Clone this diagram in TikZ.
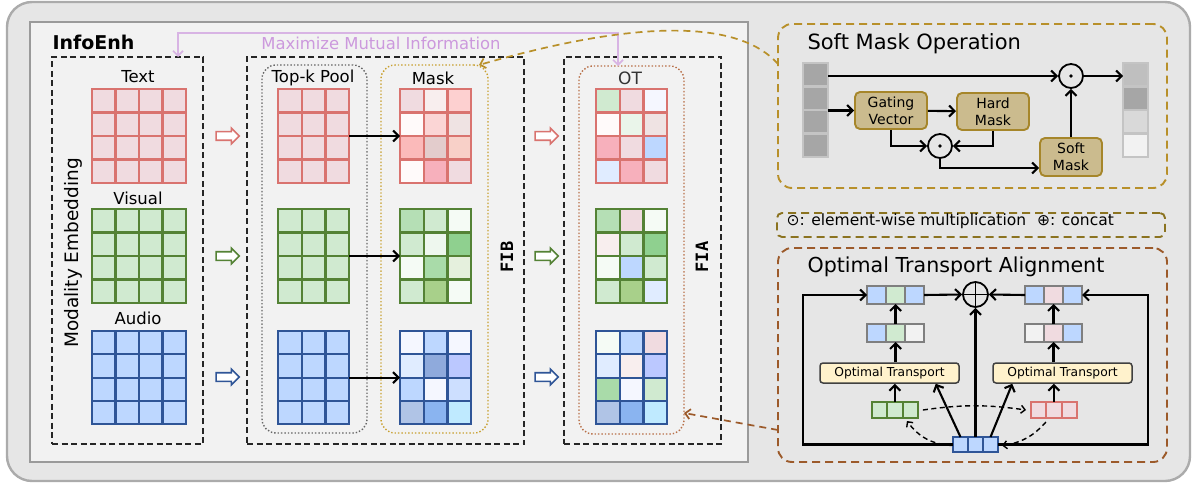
\documentclass[tikz,border=0pt]{standalone}
\usepackage{fontspec}
\setmainfont{DejaVu Sans}
\newfontfamily\monob{DejaVu Sans Mono}
\usetikzlibrary{arrows.meta,shapes.arrows}
% base colours
\definecolor{outerF}{HTML}{E6E6E6}\definecolor{outerD}{HTML}{ABABAB}
\definecolor{innerF}{HTML}{F2F2F2}\definecolor{innerD}{HTML}{9A9A9A}
\definecolor{tred}{HTML}{D9736F}\definecolor{tgreen}{HTML}{548235}\definecolor{tblue}{HTML}{2F5597}
\definecolor{purp}{HTML}{D8B4E4}\definecolor{purpT}{HTML}{CC99DD}
\definecolor{goldD}{HTML}{B8902A}\definecolor{oliveD}{HTML}{8B7320}\definecolor{brownD}{HTML}{9C5A2A}
\definecolor{maskD}{HTML}{C8A030}\definecolor{otD}{HTML}{B87048}
\definecolor{tanF}{HTML}{CBBB8E}\definecolor{tanD}{HTML}{A6862A}
\definecolor{otF}{HTML}{FFF2CC}
% cell colours
\definecolor{pk0}{HTML}{F0DBE0}\definecolor{pk1}{HTML}{F8EEEE}\definecolor{pk2}{HTML}{FDD0D0}
\definecolor{pkw}{HTML}{FFFAFA}\definecolor{pk3}{HTML}{FBD5D5}\definecolor{pk4}{HTML}{EFE3E3}
\definecolor{pk5}{HTML}{FBBABA}\definecolor{pk6}{HTML}{E3CCCC}\definecolor{pk7}{HTML}{F8D0C8}
\definecolor{pk8}{HTML}{F7B0BC}
\definecolor{gr0}{HTML}{D0EAD0}\definecolor{gr1}{HTML}{B5DFB5}\definecolor{gr2}{HTML}{F5FBF5}
\definecolor{gr3}{HTML}{EEF7EE}\definecolor{gr4}{HTML}{8FD08F}\definecolor{gr5}{HTML}{A9DBA9}
\definecolor{gr6}{HTML}{E5F0DD}\definecolor{gr7}{HTML}{A8D08A}\definecolor{gr8}{HTML}{EAF5EA}
\definecolor{bl0}{HTML}{BDD7FF}\definecolor{bl1}{HTML}{F5F7FF}\definecolor{bl2}{HTML}{E0ECFF}
\definecolor{bl3}{HTML}{8FAADC}\definecolor{bl4}{HTML}{BBC8FF}\definecolor{bl5}{HTML}{CDDFFF}
\definecolor{bl6}{HTML}{B0C4E6}\definecolor{bl7}{HTML}{8AB4F0}\definecolor{bl8}{HTML}{BFEAFF}
\definecolor{gy1}{HTML}{A6A6A6}\definecolor{gy2}{HTML}{BFBFBF}\definecolor{gy3}{HTML}{D9D9D9}
\definecolor{gy4}{HTML}{F2F2F2}\definecolor{gyD}{HTML}{C4C4C4}\definecolor{vecD}{HTML}{7F7F7F}
% grid of cells: name x y cols rows cw ch border colours
\newcommand\cgrid[9]{%
  \foreach \cc [count=\ii from 0] in {#9}{%
    \pgfmathtruncatemacro\rr{floor(\ii/#4)}%
    \pgfmathtruncatemacro\kk{mod(\ii,#4)}%
    \filldraw[fill=\cc, draw=#8, line width=2.2pt] ({#2+\kk*#6},{#3+\rr*#7}) rectangle ++(#6,#7);
  }%
  \node[inner sep=0pt, outer sep=0pt, anchor=north west, minimum width={#4*#6 pt}, minimum height={#5*#7 pt}] (#1) at (#2,#3) {};
}
\begin{document}
\begin{tikzpicture}[x=1pt,y=-1pt,
  font=\fontsize{16.5}{19}\selectfont,
  box/.style={inner sep=0pt, outer sep=0pt, anchor=north west},
  blackdash/.style={draw=black!85, dash pattern=on 6pt off 3.5pt, line width=1.7pt},
  arr/.style={-{Straight Barb[length=5.5pt,width=11pt]}, line width=2.1pt},
  dasharr/.style={-{Straight Barb[length=4pt,width=8pt]}, line width=1.4pt, dash pattern=on 5pt off 3.5pt},
  hollow/.style={single arrow, fill=white, line width=1.6pt, minimum height=23pt, inner sep=3.5pt, single arrow head extend=3.5pt},
  smbox/.style={draw=tanD, fill=tanF, rounded corners=5pt, line width=1.9pt, align=center, font=\fontsize{14}{17}\selectfont, inner sep=0pt},
  otbox/.style={draw=black!75, fill=otF, rounded corners=3pt, line width=1.5pt, font=\fontsize{12.3}{14}\selectfont, inner sep=0pt, minimum width=139pt, minimum height=20pt},
  opc/.style={circle, draw, line width=1.8pt, minimum size=24pt, inner sep=0pt}
]
\useasboundingbox (0,0) rectangle (1196,484);
\fill[white] (0,0) rectangle (1196,484);
% frames
\node[box, draw=outerD, fill=outerF, line width=2.4pt, rounded corners=25pt, minimum width=1183pt, minimum height=479pt] (outer) at (7,2) {};
\node[box, draw=innerD, fill=innerF, line width=2.4pt, minimum width=718pt, minimum height=440pt] (ie) at (30,22) {};
\node[anchor=west, font=\bfseries\fontsize{19}{21}\selectfont] (title) at (49,42) {InfoEnh};
\node[box, blackdash, minimum width=151pt, minimum height=387pt] (emb) at (52,57) {};
\node[box, blackdash, minimum width=277pt, minimum height=387pt] (fib) at (247,57) {};
\node[box, blackdash, minimum width=157pt, minimum height=387pt] (fia) at (564,57) {};
\node[box, draw=black!60, dotted, line width=1.4pt, rounded corners=14pt, minimum width=105pt, minimum height=368pt] (tkb) at (262,65) {};
\node[box, draw=maskD, dotted, line width=1.4pt, rounded corners=14pt, minimum width=107pt, minimum height=368pt] (mkb) at (381,65) {};
\node[box, draw=otD, dotted, line width=1.4pt, rounded corners=14pt, minimum width=105pt, minimum height=368pt] (otb) at (579,66) {};
% labels
\node[rotate=90, font=\fontsize{18.5}{21}\selectfont] (embl) at (73,253) {Modality Embedding};
\node (ltext) at (138,77) {Text};
\node (lvis) at (138,198) {Visual};
\node (laud) at (138,318) {Audio};
\node (ltk) at (313,78) {Top-k Pool};
\node (lmk) at (433,78) {Mask};
\node[text=black!80, font=\fontsize{17}{19}\selectfont] (lot) at (630,78) {OT};
\node[rotate=90, font=\monob\bfseries\fontsize{17}{19}\selectfont] (lfib) at (507,257) {FIB};
\node[rotate=90, font=\monob\bfseries\fontsize{17}{19}\selectfont] (lfia) at (702,257) {FIA};
\node[text=purpT, font=\fontsize{16.4}{18}\selectfont] (lmmi) at (381,43) {Maximize Mutual Information};
% embedding grids
\cgrid{e1}{92}{89}{4}{4}{23.5}{23.5}{tred}{pk0,pk0,pk0,pk0,pk0,pk0,pk0,pk0,pk0,pk0,pk0,pk0,pk0,pk0,pk0,pk0}
\cgrid{e2}{92}{209}{4}{4}{23.5}{23.5}{tgreen}{gr0,gr0,gr0,gr0,gr0,gr0,gr0,gr0,gr0,gr0,gr0,gr0,gr0,gr0,gr0,gr0}
\cgrid{e3}{92}{331}{4}{4}{23.5}{23.3}{tblue}{bl0,bl0,bl0,bl0,bl0,bl0,bl0,bl0,bl0,bl0,bl0,bl0,bl0,bl0,bl0,bl0}
% top-k grids
\cgrid{k1}{278}{89}{3}{4}{23.7}{23.5}{tred}{pk0,pk0,pk0,pk0,pk0,pk0,pk0,pk0,pk0,pk0,pk0,pk0}
\cgrid{k2}{278}{209}{3}{4}{23.7}{23.5}{tgreen}{gr0,gr0,gr0,gr0,gr0,gr0,gr0,gr0,gr0,gr0,gr0,gr0}
\cgrid{k3}{278}{331}{3}{4}{23.7}{23.3}{tblue}{bl0,bl0,bl0,bl0,bl0,bl0,bl0,bl0,bl0,bl0,bl0,bl0}
% mask grids
\cgrid{m1}{400}{89}{3}{4}{23.7}{23.5}{tred}{pk0,pk1,pk2,pkw,pk3,pk4,pk5,pk6,pk7,pkw,pk8,pk0}
\cgrid{m2}{400}{209}{3}{4}{23.7}{23.5}{tgreen}{gr1,gr0,gr2,gr0,gr3,gr4,gr2,gr5,gr6,gr0,gr7,gr2}
\cgrid{m3}{400}{331}{3}{4}{23.7}{23.3}{tblue}{bl1,bl0,bl1,bl2,bl3,bl4,bl0,bl1,bl5,bl6,bl7,bl8}
% OT grids
\cgrid{o1}{596}{89}{3}{4}{23.7}{23.5}{tred}{gr0,pk0,bl1,pkw,gr8,pk4,pk8,pk0,bl0,bl2,pk8,pk0}
\cgrid{o2}{596}{209}{3}{4}{23.7}{23.5}{tgreen}{gr1,pk0,gr2,pk1,gr0,gr4,gr2,bl0,gr0,gr0,gr7,bl2}
\cgrid{o3}{596}{331}{3}{4}{23.7}{23.3}{tblue}{gr2,bl0,pk0,bl2,pk1,bl4,gr5,bl1,gr0,bl6,bl7,bl8}
% hollow arrows
\node[hollow, draw=tred] (h1) at (225.5,136) {};
\node[hollow, draw=tgreen] (h2) at (225.5,256) {};
\node[hollow, draw=tblue] (h3) at (225.5,377) {};
\node[hollow, draw=tred] (h4) at (544.5,136) {};
\node[hollow, draw=tgreen] (h5) at (544.5,256) {};
\node[hollow, draw=tblue] (h6) at (544.5,377) {};
% top-k -> mask arrows
\draw[arr] (k1.east) -- (m1.west);
\draw[arr] (k2.east) -- (m2.west);
\draw[arr] (k3.east) -- (m3.west);
% mutual information connector
\coordinate (pL) at (178,0);
\coordinate (pR) at (618,0);
\draw[purp, line width=1.7pt, {Straight Barb[length=5pt,width=10pt]}-{Straight Barb[length=5pt,width=10pt]}] (emb.north -| pL) -- ++(0,-24) -| (otb.north -| pR);
% ---------- Soft Mask Operation ----------
\node[box, draw=goldD, dash pattern=on 8pt off 5pt, line width=1.9pt, rounded corners=14pt, minimum width=389pt, minimum height=164pt] (smo) at (778,24) {};
\node[anchor=west, font=\fontsize{21}{24}\selectfont] (smot) at (804,44) {Soft Mask Operation};
\cgrid{iv}{803}{63}{1}{4}{25}{23.5}{gyD}{gy1,gy1,gy1,gy1}
\cgrid{ov}{1123}{63}{1}{4}{25}{23.5}{gyD}{gy2,gy1,gy3,gy4}
\node[opc] (od1) at (1071,76) {};
\fill (od1.center) circle (1.9pt);
\node[smbox, minimum width=72pt, minimum height=37pt] (gv) at (891,110.5) {Gating\\Vector};
\node[smbox, minimum width=72pt, minimum height=37pt] (hm) at (993,111.5) {Hard\\Mask};
\node[opc] (od2) at (940,146) {};
\fill (od2.center) circle (1.9pt);
\node[smbox, minimum width=62pt, minimum height=38pt] (sm) at (1071,157) {Soft\\Mask};
\draw[arr] (iv.east |- od1) -- (od1);
\draw[arr] (od1) -- (ov.west |- od1);
\draw[arr] (iv.east |- gv) -- (gv);
\draw[arr] (gv) -- (hm);
\draw[arr] (gv.south) |- (od2);
\draw[arr] (hm.south) |- (od2);
\draw[arr] (od2.south) |- ([yshift=-11pt]sm.west);
\draw[arr] (sm.north) -- (od1.south);
% legend
\node[box, draw=oliveD, dash pattern=on 8pt off 5pt, line width=1.9pt, rounded corners=5pt, minimum width=388pt, minimum height=24pt] (leg) at (777,213) {};
\node[anchor=west, font=\fontsize{15.5}{18}\selectfont] (legt) at (783,221) {⊙: element-wise multiplication\hspace{11pt}⊕: concat};
% ---------- Optimal Transport Alignment ----------
\node[box, draw=brownD, dash pattern=on 8pt off 5pt, line width=1.9pt, rounded corners=14pt, minimum width=389pt, minimum height=214pt] (ota) at (778,248) {};
\node[anchor=west, font=\fontsize{20.6}{23}\selectfont] (otat) at (804,267) {Optimal Transport Alignment};
\cgrid{tl}{867}{286}{3}{1}{19}{18}{vecD}{bl0,gr0,bl0}
\cgrid{sl}{867}{324}{3}{1}{19}{18}{vecD}{bl0,gr0,gy4}
\cgrid{tr}{1025}{286}{3}{1}{19}{18}{vecD}{bl0,pk0,bl0}
\cgrid{sr}{1025}{324}{3}{1}{19}{18}{vecD}{gy4,pk0,bl0}
\node[otbox] (ot1) at (889.5,373) {Optimal Transport};
\node[otbox] (ot2) at (1062.5,373) {Optimal Transport};
\cgrid{gsv}{872}{402}{3}{1}{15.3}{16}{tgreen}{gr0,gr0,gr0}
\cgrid{psv}{1031}{402}{3}{1}{15.3}{16}{tred}{pk0,pk0,pk0}
\cgrid{bv}{953}{437}{3}{1}{15}{15}{tblue}{bl0,bl0,bl0}
\node[opc, minimum size=25pt] (op) at (975.5,294.5) {};
\draw[line width=1.8pt] (op.north) -- (op.south) (op.west) -- (op.east);
\coordinate (lx) at (803,0);
\coordinate (rx) at (1148,0);
\draw[arr] (bv.west) -| (lx |- tl.west) -- (tl.west);
\draw[arr] (bv.east) -| (rx |- tr.east) -- (tr.east);
\draw[arr] (tl.east) -- (op.west);
\draw[arr] (tr.west) -- (op.east);
\draw[arr] (bv.north) -- (op.south);
\draw[arr] (sl.north) -- (tl.south);
\draw[arr] (sr.north) -- (tr.south);
\draw[arr] (ot1.north -| sl) -- (sl.south);
\draw[arr] (ot2.north -| sr) -- (sr.south);
\draw[arr] (gsv.north) -- (gsv.north |- ot1.south);
\draw[arr] (psv.north) -- (psv.north |- ot2.south);
\draw[arr] ([xshift=-15pt]bv.north) -- ([xshift=-24pt]ot1.south east);
\draw[arr] ([xshift=15pt]bv.north) -- ([xshift=20pt]ot2.south west);
\draw[dasharr] ([xshift=5pt]gsv.east) to[bend left=8] ([xshift=-5pt]psv.west);
\draw[dasharr] ([xshift=-1pt,yshift=-1pt]bv.west) to[bend left=25] ([xshift=12pt,yshift=-3pt]gsv.south);
\draw[dasharr] ([xshift=-8pt,yshift=-4pt]psv.south) to[bend left=20] ([xshift=4pt,yshift=-1pt]bv.east);
% cross connectors
\draw[goldD, line width=1.7pt, dash pattern=on 7pt off 5pt, -{Straight Barb[length=5pt,width=10pt]}] ([yshift=42pt]smo.west) .. controls (730,10) and (600,30) .. ([xshift=-9pt]mkb.north east);
\draw[brownD, line width=1.7pt, dash pattern=on 7pt off 5pt, -{Straight Barb[length=5pt,width=10pt]}] ([yshift=-75pt]ota.west) -- ([yshift=21pt]otb.south east);
\end{tikzpicture}
\end{document}
